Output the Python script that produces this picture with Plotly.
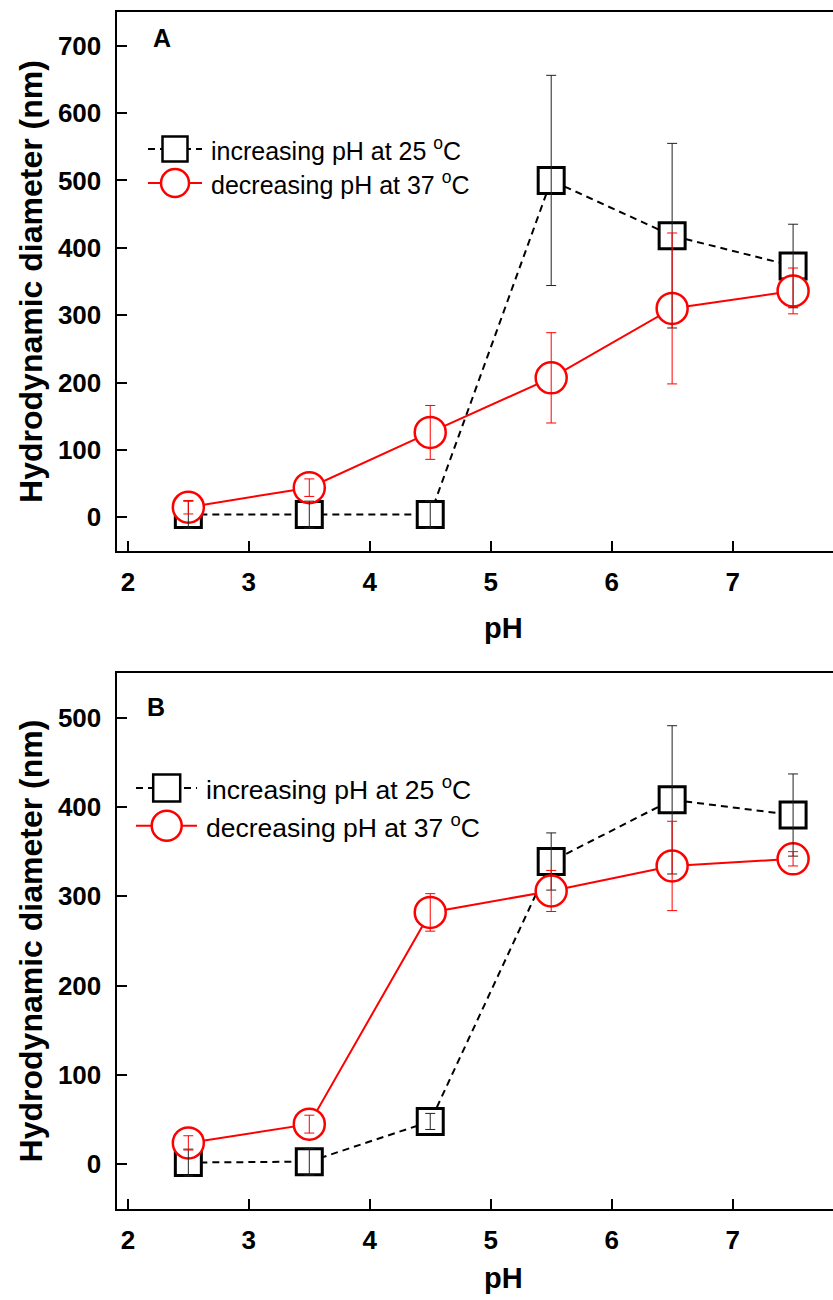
import plotly.graph_objects as go

# pH values for both panels
ph = [2.5, 3.5, 4.5, 5.5, 6.5, 7.5]

# Panel A: hydrodynamic diameter (nm)
a_inc = [4, 4, 4, 500, 418, 373]
a_inc_err = [20, 20, 20, 156, 137, 62]
a_dec = [15, 44, 126, 207, 310, 336]
a_dec_err = [10, 13, 40, 67, 112, 34]

# Panel B: hydrodynamic diameter (nm)
b_inc = [2, 3, 48, 339, 408, 391]
b_inc_err = [15, 15, 9, 32, 83, 46]
b_dec = [24, 45, 282, 306, 334, 342]
b_dec_err = [8, 10, 21, 23, 50, 8]

y_ticks_a = [0, 100, 200, 300, 400, 500, 600, 700]
y_ticks_b = [0, 100, 200, 300, 400, 500]
x_ticks = [2, 3, 4, 5, 6, 7]

legend_inc = "increasing pH at 25 <sup>o</sup>C"
legend_dec = "decreasing pH at 37 <sup>o</sup>C"
y_title = "Hydrodynamic diameter (nm)"
x_title = "pH"

W, H = 833, 1300
FONT = "Liberation Sans, Arial, sans-serif"
BLACK = "#000000"
RED = "#ff0000"


def px(x):
    return x / W


def py(y):
    return 1 - y / H


fig = go.Figure()


def add_panel(xa, ya, inc, inc_err, dec, dec_err):
    fig.add_trace(go.Scatter(
        x=ph, y=inc, mode="lines+markers", xaxis=xa, yaxis=ya,
        line=dict(color=BLACK, width=2, dash="7px,5px"),
        marker=dict(symbol="square", size=26, color="white",
                    line=dict(color=BLACK, width=3)),
        showlegend=False, cliponaxis=False))
    fig.add_trace(go.Scatter(
        x=ph, y=dec, mode="lines+markers", xaxis=xa, yaxis=ya,
        line=dict(color=RED, width=2),
        marker=dict(symbol="circle", size=31, color="white",
                    line=dict(color=RED, width=2.5)),
        showlegend=False, cliponaxis=False))
    # error bars drawn above the markers
    fig.add_trace(go.Scatter(
        x=ph, y=inc, mode="markers", xaxis=xa, yaxis=ya,
        marker=dict(size=1, opacity=0),
        error_y=dict(type="data", array=inc_err, visible=True,
                     color="#222222", thickness=1, width=5),
        showlegend=False, hoverinfo="skip", cliponaxis=False))
    fig.add_trace(go.Scatter(
        x=ph, y=dec, mode="markers", xaxis=xa, yaxis=ya,
        marker=dict(size=1, opacity=0),
        error_y=dict(type="data", array=dec_err, visible=True,
                     color=RED, thickness=1, width=5),
        showlegend=False, hoverinfo="skip", cliponaxis=False))


add_panel("x", "y", a_inc, a_inc_err, a_dec, a_dec_err)
add_panel("x2", "y2", b_inc, b_inc_err, b_dec, b_dec_err)

tickfont = dict(family=FONT, size=26, color=BLACK, weight="bold")
titlefont = dict(family=FONT, size=32, color=BLACK, weight="bold")

xcommon = dict(range=[1.906, 7.83], tickvals=x_ticks, ticks="inside",
               ticklen=10, tickwidth=1.5, tickcolor=BLACK,
               showline=True, linecolor=BLACK, linewidth=2, mirror=True,
               showgrid=False, zeroline=False, tickfont=tickfont,
               ticklabelstandoff=7)
ycommon = dict(ticks="inside", ticklen=10, tickwidth=1.5, tickcolor=BLACK,
               showline=True, linecolor=BLACK, linewidth=2,
               showgrid=False, zeroline=False, tickfont=tickfont,
               ticklabelstandoff=8,
               title=dict(text=y_title, font=titlefont, standoff=6))

x_dom = [px(116.5), 1.0]
fig.update_layout(
    width=W, height=H,
    margin=dict(l=0, r=0, t=0, b=0),
    paper_bgcolor="white", plot_bgcolor="white",
    showlegend=False,
    xaxis=dict(domain=x_dom, anchor="y", **xcommon),
    yaxis=dict(domain=[py(551), py(12)], anchor="x", range=[-50, 750],
               tickvals=y_ticks_a, **ycommon),
    xaxis2=dict(domain=x_dom, anchor="y2", **xcommon),
    yaxis2=dict(domain=[py(1209), py(673)], anchor="x2", range=[-50, 550],
                tickvals=y_ticks_b, **ycommon),
)

# Legend samples, panel labels and x titles
shapes = []
annotations = []


def legend_block(x_left, x_right, xc, y1, y2, sq, dia, text_x, fsize):
    shapes.append(dict(type="line", xref="paper", yref="paper",
                       x0=px(x_left), x1=px(x_right), y0=py(y1), y1=py(y1),
                       line=dict(color=BLACK, width=2, dash="7px,5px")))
    shapes.append(dict(type="rect", xref="paper", yref="paper",
                       x0=px(xc - sq / 2), x1=px(xc + sq / 2),
                       y0=py(y1 + sq / 2), y1=py(y1 - sq / 2),
                       fillcolor="white", line=dict(color=BLACK, width=2.5)))
    shapes.append(dict(type="line", xref="paper", yref="paper",
                       x0=px(x_left), x1=px(x_right), y0=py(y2), y1=py(y2),
                       line=dict(color=RED, width=2)))
    shapes.append(dict(type="circle", xref="paper", yref="paper",
                       x0=px(xc - dia / 2), x1=px(xc + dia / 2),
                       y0=py(y2 + dia / 2), y1=py(y2 - dia / 2),
                       fillcolor="white", line=dict(color=RED, width=2.5)))
    for txt, yy in ((legend_inc, y1), (legend_dec, y2)):
        annotations.append(dict(text=txt, xref="paper", yref="paper",
                                x=px(text_x), y=py(yy), xanchor="left",
                                yanchor="middle", showarrow=False,
                                font=dict(family=FONT, size=fsize,
                                          color=BLACK)))


legend_block(148, 202, 175, 149, 183, 25, 28, 209, 25)
legend_block(136, 197, 166.7, 788, 825.7, 27, 30, 204, 26.5)

for lab, xx, yy in (("A", 162, 37.5), ("B", 156, 707.5)):
    annotations.append(dict(text=lab, xref="paper", yref="paper",
                            x=px(xx), y=py(yy), xanchor="center",
                            yanchor="middle", showarrow=False,
                            font=dict(family=FONT, size=25, color=BLACK,
                                      weight="bold")))

for yy in (628, 1278):
    annotations.append(dict(text=x_title, xref="paper", yref="paper",
                            x=px(504), y=py(yy), xanchor="center",
                            yanchor="middle", showarrow=False,
                            font=dict(family=FONT, size=29, color=BLACK,
                                      weight="bold")))

fig.update_layout(shapes=shapes, annotations=annotations)

fig.write_html("out.html")
